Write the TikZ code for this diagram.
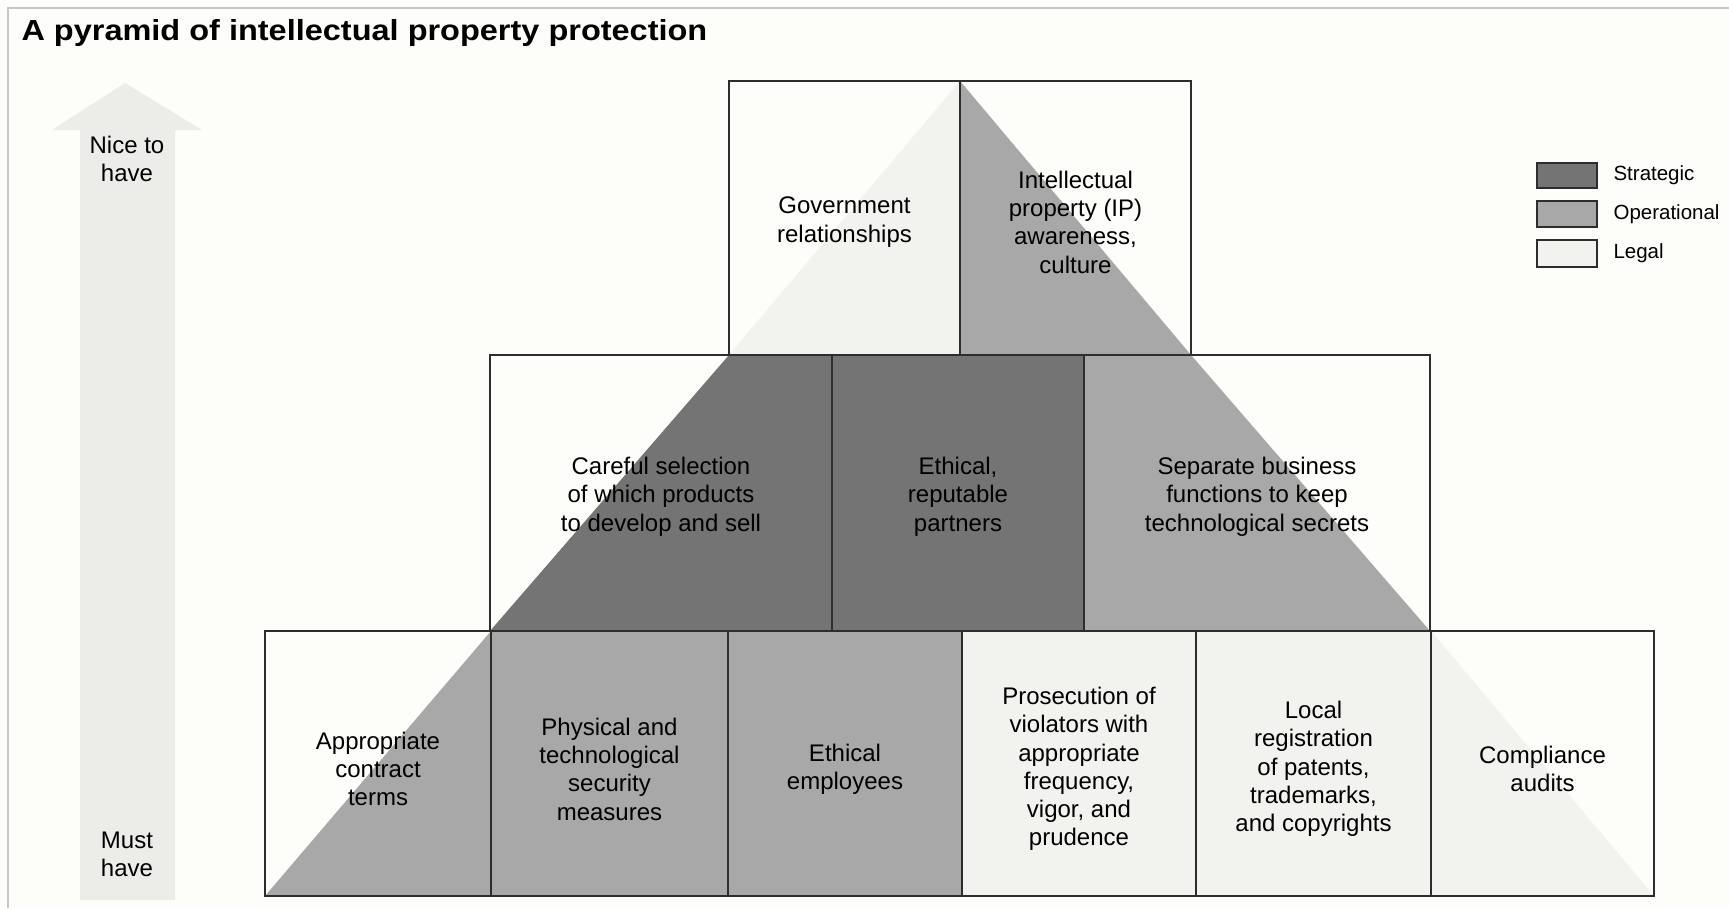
\documentclass[tikz,border=0pt]{standalone}
\usepackage{fontspec}
\setmainfont{Liberation Sans}
\newfontfamily\titlefont[FakeStretch=1.12]{Liberation Sans}

\definecolor{paper}{RGB}{253,253,250}
\definecolor{strategic}{RGB}{116,116,116}
\definecolor{operational}{RGB}{168,168,168}
\definecolor{legal}{RGB}{242,242,238}
\definecolor{arrowgray}{RGB}{236,236,232}
\definecolor{rule}{RGB}{45,45,45}
\definecolor{framegray}{RGB}{200,200,200}

\begin{document}
\begin{tikzpicture}[x=1pt, y=-1pt,
		box/.style={draw=rule, line width=1.4pt},
		label/.style={align=center, font=\fontsize{24}{28.3}\selectfont},
		keytext/.style={anchor=west, font=\fontsize{20.5}{24}\selectfont}]
		
		\useasboundingbox (0,0) rectangle (1729,908);
		\fill[paper] (0,0) rectangle (1729,908);
		\draw[framegray, line width=2pt] (8,908) -- (8,8) -- (1729,8);
		
		\node[anchor=base west, font=\titlefont\fontsize{29}{33}\selectfont\bfseries] (title) at (18,40) {A pyramid of intellectual property protection};
		
		% must have -> nice to have
		\fill[arrowgray] (80,900) -- (80,130) -- (52,130) -- (125,83) -- (202,130) -- (175,130) -- (175,900) -- cycle;
		\node[label] (nice) at (127,159) {Nice to\\have};
		\node[label] (must) at (127,854) {Must\\have};
		
		% shading of the pyramid
		\fill[legal] (960,81) -- (960,355) -- (729,355) -- cycle;
		\fill[operational] (960,81) -- (1191,355) -- (960,355) -- cycle;
		\fill[strategic] (729,355) -- (1084,355) -- (1084,631) -- (490,631) -- cycle;
		\fill[operational] (1084,355) -- (1191,355) -- (1430,631) -- (1084,631) -- cycle;
		\fill[operational] (491,631) -- (962,631) -- (962,896) -- (265,896) -- cycle;
		\fill[legal] (962,631) -- (1431,631) -- (1654,896) -- (962,896) -- cycle;
		
		% cells
		\draw[box] (729,81) rectangle (960,355);
		\draw[box] (960,81) rectangle (1191,355);
		\draw[box] (490,355) rectangle (832,631);
		\draw[box] (832,355) rectangle (1084,631);
		\draw[box] (1084,355) rectangle (1430,631);
		\draw[box] (265,631) rectangle (491,896);
		\draw[box] (491,631) rectangle (728,896);
		\draw[box] (728,631) rectangle (962,896);
		\draw[box] (962,631) rectangle (1196,896);
		\draw[box] (1196,631) rectangle (1431,896);
		\draw[box] (1431,631) rectangle (1654,896);
		
		% top row
		\node[label] (gov) at (844.5,222) {Government\\relationships};
		\node[label] (culture) at (1075.5,222) {Intellectual\\property (IP)\\awareness,\\culture};
		
		% middle row
		\node[label] (products) at (661,496.5) {Careful selection\\of which products\\to develop and sell};
		\node[label] (partners) at (958,496.5) {Ethical,\\reputable\\partners};
		\node[label] (secrets) at (1257,496.5) {Separate business\\functions to keep\\technological secrets};
		
		% bottom row
		\node[label] (contract) at (378,769) {Appropriate\\contract\\terms};
		\node[label] (security) at (609.5,769) {Physical and\\technological\\security\\measures};
		\node[label] (employees) at (845,769) {Ethical\\employees};
		\node[label] (violators) at (1079,769) {Prosecution of\\violators with\\appropriate\\frequency,\\vigor, and\\prudence};
		\node[label] (registration) at (1313.5,769) {Local\\registration\\of patents,\\trademarks,\\and copyrights};
		\node[label] (audits) at (1542.5,769) {Compliance\\audits};
		
		% legend
		\draw[box, fill=strategic] (1537,163) rectangle (1597,188);
		\draw[box, fill=operational] (1537,201) rectangle (1597,227);
		\draw[box, fill=legal] (1537,240) rectangle (1597,267);
		\node[keytext] (kstrat) at (1610,175) {Strategic};
		\node[keytext] (kop) at (1610,214) {Operational};
		\node[keytext] (klegal) at (1610,253) {Legal};
\end{tikzpicture}
\end{document}
